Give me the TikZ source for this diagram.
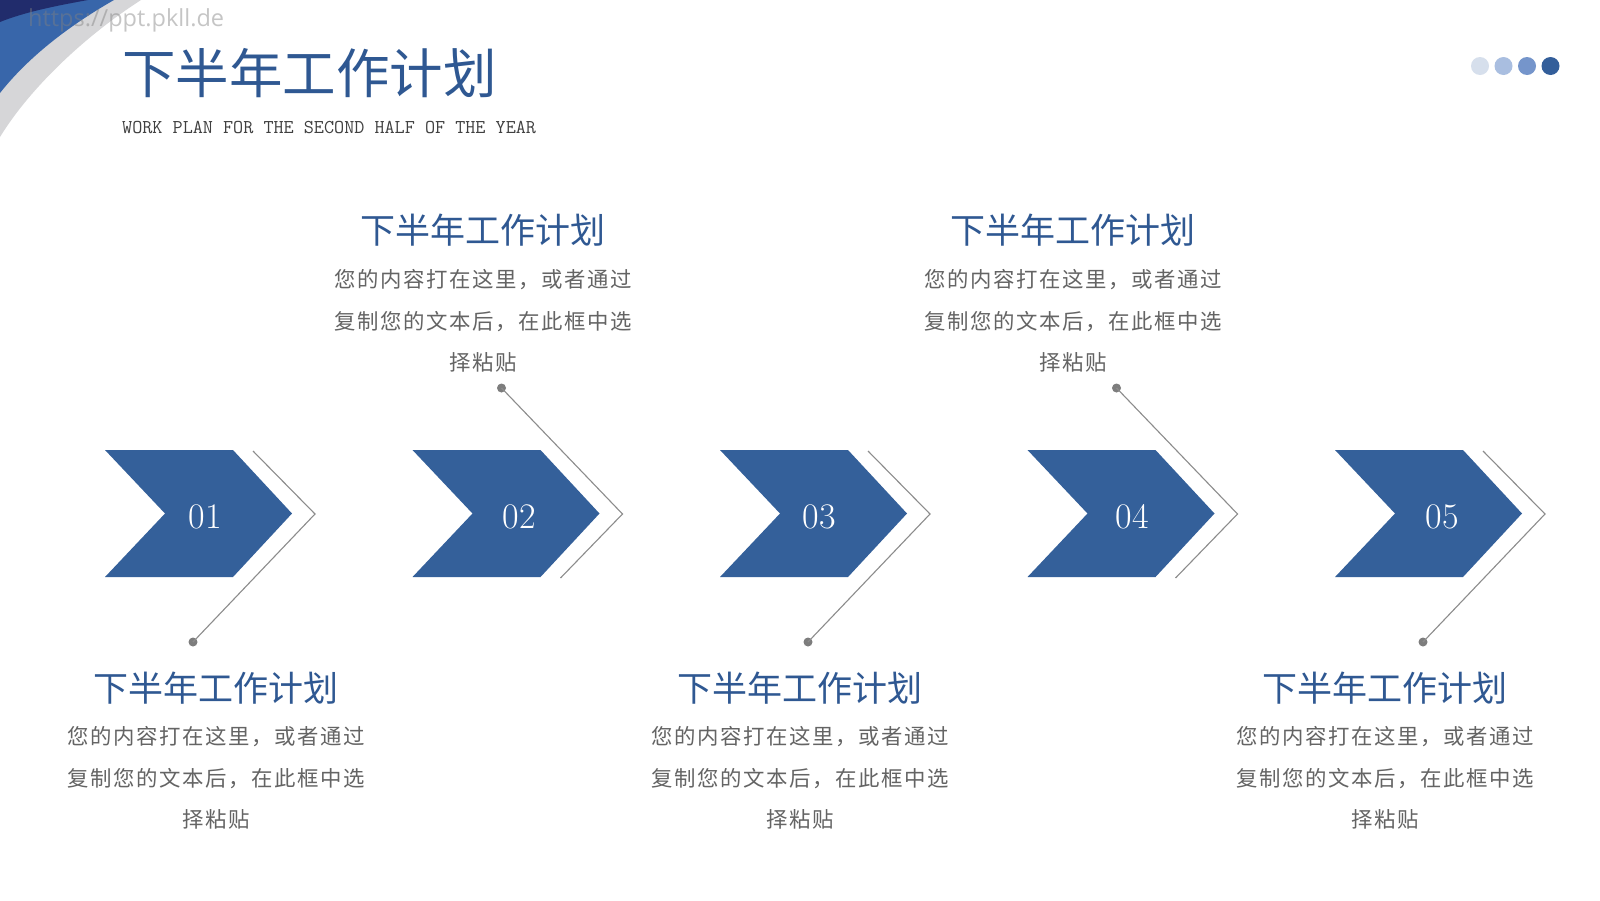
\documentclass[tikz,border=0pt]{standalone}
\usepackage{fontspec}
\usepackage{xcolor}
\usetikzlibrary{positioning}
\newfontfamily\cjk{Noto Sans CJK SC}
\newfontfamily\cjkwide[LetterSpace=7.5]{Noto Sans CJK SC}
\newfontfamily\wmfont{Open Sans}
\definecolor{planblue}{RGB}{52,96,154}
\definecolor{titleblue}{RGB}{47,88,146}
\definecolor{linegray}{RGB}{140,140,140}
\definecolor{dotgray}{RGB}{125,125,125}
\definecolor{bodygray}{RGB}{100,100,100}
\definecolor{subgray}{RGB}{64,64,64}
\definecolor{navy}{RGB}{33,44,108}
\definecolor{swblue}{RGB}{56,102,170}
\definecolor{swgray}{RGB}{214,214,216}
\newcommand\plantext{您的内容打在这里，或者通过\\复制您的文本后，在此框中选\\择粘贴}

\begin{document}
\begin{tikzpicture}[x=1pt,y=-1pt]
\tikzstyle{chev}=[fill=planblue]
\tikzstyle{num}=[text=white,font=\fontsize{36}{36}\selectfont,inner sep=0pt]
\tikzstyle{link}=[draw=linegray,line width=1.1pt]
\tikzstyle{pin}=[circle,fill=dotgray,inner sep=0pt,minimum size=9pt]
\tikzstyle{head}=[text=titleblue,font=\cjk\fontsize{35}{40}\selectfont,inner sep=0pt]
\tikzstyle{body}=[text=bodygray,align=center,font=\cjkwide\fontsize{21.4}{41.5}\selectfont,inner sep=0pt]
\useasboundingbox (0,0) rectangle (1600,900);
\fill[white] (0,0) rectangle (1600,900);
% corner swoosh
\fill[swgray] (0,0) -- (141,0) .. controls (85,36) and (30,88) .. (0,137) -- cycle;
\fill[swblue] (0,0) -- (114,0) .. controls (72,24) and (30,55) .. (0,93) -- cycle;
\fill[navy] (0,0) -- (88,0) .. controls (55,6) and (25,12) .. (0,22) -- cycle;
\node[anchor=west,text=gray,text opacity=0.45,font=\wmfont\fontsize{23.5}{25}\selectfont,inner sep=0pt] (wm) at (28,20) {https://ppt.pkll.de};
% title
\node[anchor=west,text=titleblue,font=\cjk\fontsize{53.5}{60}\selectfont,inner sep=0pt] (title) at (122,73) {下半年工作计划};
\node[anchor=west,text=subgray,font=\ttfamily\fontsize{19.6}{20}\selectfont,inner sep=0pt] (sub) at (122,127) {WORK PLAN FOR THE SECOND HALF OF THE YEAR};
% dots top right
\fill[fill={rgb,255:red,214;green,223;blue,236}] (1480,66) circle (9);
\fill[fill={rgb,255:red,169;green,190;blue,224}] (1503.5,66) circle (9);
\fill[fill={rgb,255:red,117;green,149;blue,203}] (1527,66) circle (9);
\fill[fill={rgb,255:red,51;green,94;blue,154}] (1550.5,66) circle (9);
% chevrons
\foreach \i/\x/\nx in {1/105/100,2/412.5/107,3/720/99,4/1027.5/105,5/1335/107}{
\begin{scope}[shift={(\x,0)}]
\fill[chev] (0,450)--(128,450)--(187,513.5)--(128,577)--(0,577)--(60,513.5)--cycle;
\node[num] (n\i) at (\nx,517) {0\i};
\coordinate (t\i) at (210,514);
\end{scope}}
\coordinate (s1) at (253,451);\node[pin] (d1) at (193,642) {};
\node[pin] (d2) at (501.5,388) {};\coordinate (s2) at (560.5,578);
\coordinate (s3) at (868,451);\node[pin] (d3) at (808,642) {};
\node[pin] (d4) at (1116.5,388) {};\coordinate (s4) at (1175.5,578);
\coordinate (s5) at (1483,451);\node[pin] (d5) at (1423,642) {};
\draw[link] (s1)--(t1)--(d1.center);\draw[link] (d2.center)--(t2)--(s2);
\draw[link] (s3)--(t3)--(d3.center);\draw[link] (d4.center)--(t4)--(s4);
\draw[link] (s5)--(t5)--(d5.center);
% text blocks
\node[head] (h2) at (483,230) {下半年工作计划};
\node[body] (b2) at (483,321) {\plantext};
\node[head] (h4) at (1073,230) {下半年工作计划};
\node[body] (b4) at (1073,321) {\plantext};
\node[head] (h1) at (216,688) {下半年工作计划};
\node[body] (b1) at (216,778) {\plantext};
\node[head] (h3) at (800,688) {下半年工作计划};
\node[body] (b3) at (800,778) {\plantext};
\node[head] (h5) at (1385,688) {下半年工作计划};
\node[body] (b5) at (1385,778) {\plantext};
\end{tikzpicture}
\end{document}
